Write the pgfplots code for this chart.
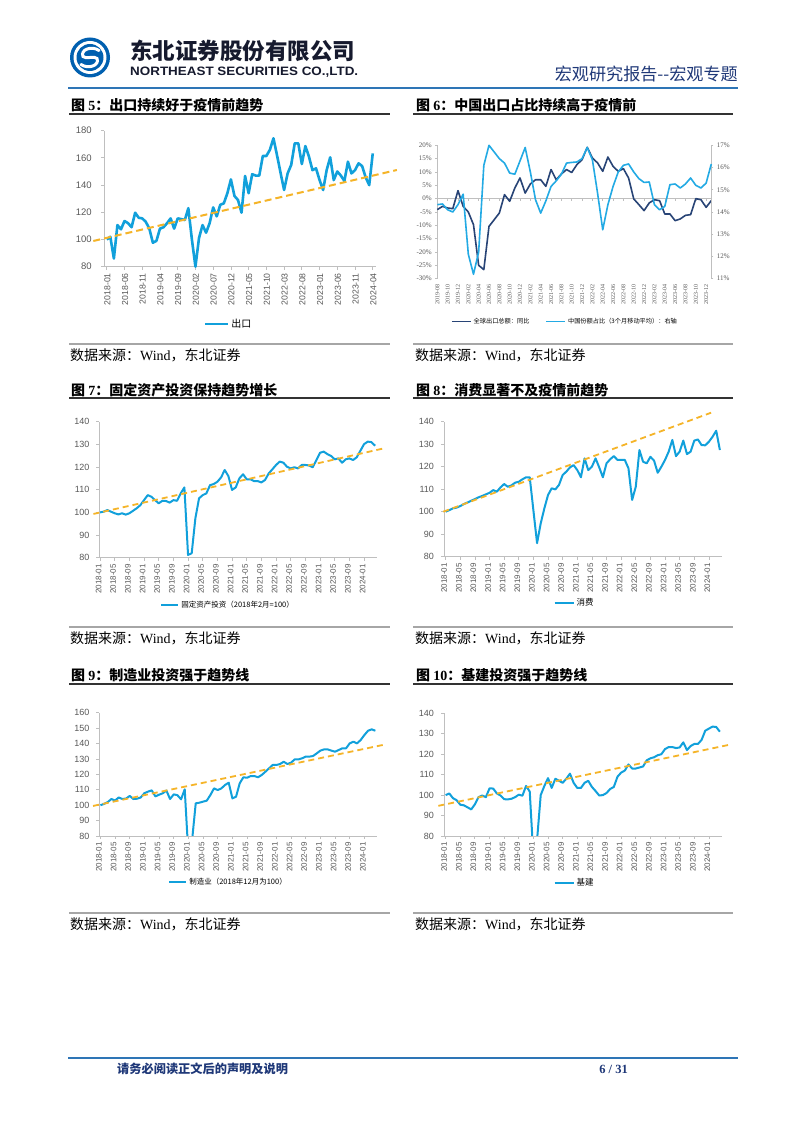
\documentclass[border=0pt]{standalone}
\usepackage{pgfplots}
\pgfplotsset{compat=1.18}
\usepackage{graphicx}
\usepackage{fontspec}
\setmainfont{Liberation Serif}
\newfontfamily\lsans{Liberation Sans}
\newfontfamily\cjk{Noto Sans CJK SC}
\definecolor{lblue}{RGB}{17,160,219}
\definecolor{dblue}{RGB}{40,68,118}
\definecolor{sblue}{RGB}{35,170,228}
\definecolor{trend}{RGB}{245,180,40}
\definecolor{axgray}{RGB}{191,191,191}
\definecolor{tkgray}{RGB}{89,89,89}
\definecolor{navy}{RGB}{31,56,120}
\definecolor{logoblue}{RGB}{0,96,176}
\definecolor{rulec}{RGB}{46,117,182}
\definecolor{namec}{RGB}{22,26,46}

\pgfplotsset{
  base/.style={
    scale only axis, clip=false,
    axis x line*=bottom, axis y line*=left,
    axis line style={draw=axgray, line width=0.8pt},
    tick style={draw=axgray, line width=0.8pt},
    tick align=outside, major tick length=3pt,
    /pgf/number format/assume math mode=true,
    yticklabel style={font=\lsans\fontsize{9}{9}\selectfont, text=tkgray, xshift=-3.5pt},
    xticklabel style={font=\lsans\fontsize{8}{8}\selectfont, text=tkgray, rotate=90, anchor=east, yshift=1.5pt},
    legend cell align=left,
    legend style={draw=none, fill=none, anchor=center, font=\cjk\fontsize{7.5}{7.5}\selectfont},
    legend image code/.code={\draw[##1] (0pt,0pt) -- (17pt,0pt);},
  },
  mline/.style={lblue, line width=2pt, line join=round},
  tline/.style={trend, line width=1.8pt, dash pattern=on 6pt off 4pt},
  mlabels/.style={xtick={0,4,...,72},
    xticklabels={2018-01,2018-05,2018-09,2019-01,2019-05,2019-09,2020-01,2020-05,2020-09,2021-01,2021-05,2021-09,2022-01,2022-05,2022-09,2023-01,2023-05,2023-09,2024-01}},
}

\begin{document}
\begin{tikzpicture}[x=1pt,y=1pt]
\fill[white] (0,0) rectangle (802,1133);

% ---------- header ----------
\begin{scope}[shift={(90,1075.5)}]
\fill[logoblue] (0,0) circle (20);
\fill[white] (0,0) circle (16.5);
\fill[logoblue] (0,0) circle (13.5);
\draw[white, line width=3pt, line cap=round] (9,7) .. controls (2,12) and (-10,8) .. (-7,1) .. controls (-5,-2) and (5,2) .. (7,-1) .. controls (10,-8) and (-2,-12) .. (-9,-7);
\end{scope}
\node[anchor=west, inner sep=0, text=namec] at (130,1082) {\resizebox{225pt}{!}{\cjk\bfseries 东北证券股份有限公司}};
\node[anchor=west, inner sep=0, text=namec] at (130,1061) {\resizebox{228pt}{8.5pt}{\lsans\bfseries NORTHEAST SECURITIES CO.,LTD.}};
\node[anchor=east, inner sep=0, text=navy] at (738,1059) {\resizebox{183pt}{!}{\cjk 宏观研究报告--宏观专题}};
\draw[rulec, line width=1.5pt] (68,1045) -- (738,1045);

% ---------- titles, rules, sources ----------
\foreach \ty/\uy/\sy/\sty in {1028/1019/789/778, 743/735/506/495, 458/449/220/209}{
  \draw[black!80, line width=1.5pt] (69,\uy) -- (390,\uy);
  \draw[black!80, line width=1.5pt] (413,\uy) -- (733,\uy);
  \draw[gray!70, line width=1.2pt] (69,\sy) -- (390,\sy);
  \draw[gray!70, line width=1.2pt] (413,\sy) -- (733,\sy);
  \node[anchor=west, inner sep=0] at (70,\sty) {\cjk\fontsize{14}{14}\selectfont 数据来源：{\rmfamily Wind}，东北证券};
  \node[anchor=west, inner sep=0] at (415,\sty) {\cjk\fontsize{14}{14}\selectfont 数据来源：{\rmfamily Wind}，东北证券};
}
\node[anchor=west, inner sep=0] at (71,1028) {\cjk\bfseries\fontsize{14}{14}\selectfont 图 {\rmfamily 5}：出口持续好于疫情前趋势};
\node[anchor=west, inner sep=0] at (416,1028) {\cjk\bfseries\fontsize{14}{14}\selectfont 图 {\rmfamily 6}：中国出口占比持续高于疫情前};
\node[anchor=west, inner sep=0] at (71,743) {\cjk\bfseries\fontsize{14}{14}\selectfont 图 {\rmfamily 7}：固定资产投资保持趋势增长};
\node[anchor=west, inner sep=0] at (416,743) {\cjk\bfseries\fontsize{14}{14}\selectfont 图 {\rmfamily 8}：消费显著不及疫情前趋势};
\node[anchor=west, inner sep=0] at (71,458) {\cjk\bfseries\fontsize{14}{14}\selectfont 图 {\rmfamily 9}：制造业投资强于趋势线};
\node[anchor=west, inner sep=0] at (416,458) {\cjk\bfseries\fontsize{14}{14}\selectfont 图 {\rmfamily 10}：基建投资强于趋势线};

% ---------- footer ----------
\draw[rulec, line width=1.5pt] (68,75) -- (738,75);
\node[anchor=west, inner sep=0, text=navy] at (117,64) {\cjk\bfseries\fontsize{12.2}{12.2}\selectfont 请务必阅读正文后的声明及说明};
\node[anchor=east, inner sep=0, text=navy] at (628,64) {\rmfamily\bfseries\fontsize{12.5}{12.5}\selectfont 6 / 31};

% ---------- Chart 5 ----------
\begin{axis}[base, at={(104.3pt,866.3pt)}, anchor=south west, width=272pt, height=136pt,
  xmin=-0.7, xmax=76, ymin=80, ymax=180, ytick={80,100,...,180},
  xtick={0,5,...,75},
  xticklabels={2018-01,2018-06,2018-11,2019-04,2019-09,2020-02,2020-07,2020-12,2021-05,2021-10,2022-03,2022-08,2023-01,2023-06,2023-11,2024-04},
  xticklabel style={font=\lsans\fontsize{8.7}{8.7}\selectfont, yshift=-2pt},
  yticklabel style={font=\lsans\fontsize{9.5}{9.5}\selectfont, xshift=-2.5pt},
  legend style={at={(0.457,-0.421)}, font=\cjk\fontsize{10}{10}\selectfont},
  legend image code/.code={\draw[#1] (0pt,0pt) -- (23pt,0pt);},
]
\addplot[mline, line width=2.6pt] table[x expr=\coordindex, y index=0, row sep=\\] {v\\
100\\102\\86\\110.6\\107.5\\113.6\\112\\109\\119.7\\116\\
115.5\\113\\108\\97.6\\99\\108\\109\\112\\115.5\\108\\
115.5\\115\\114.3\\123\\100\\80\\101\\110.6\\105\\112\\
123.6\\117\\125.5\\126.6\\134\\144.2\\132\\129\\119.7\\146.7\\
134\\148\\147\\147\\161.4\\161.4\\166\\174.4\\162\\149\\
136.4\\148.6\\154.8\\170.7\\170.7\\155.5\\168.7\\161\\151\\152.3\\
143.7\\136.4\\151\\160.4\\143.7\\150\\147\\143\\157.2\\148.6\\
151\\156\\154\\145.7\\140\\163.3\\};
\addlegendentry{出口}
\addplot[tline, line width=2pt, dash pattern=on 7pt off 4pt, forget plot] coordinates {(-3.8,98.9) (81.8,151.1)};
\end{axis}

% ---------- Chart 6 ----------
\begin{axis}[scale only axis, clip=false, at={(437.3pt,854.3pt)}, anchor=south west, width=274pt, height=133.4pt,
  xmin=0, xmax=53, ymin=-30, ymax=20,
  axis x line*=bottom, axis y line*=left,
  x axis line style={draw=none}, y axis line style={draw=axgray, line width=0.8pt},
  xtick style={draw=none}, ytick style={draw=axgray, line width=0.6pt},
  tick align=outside, major tick length=2pt,
  ytick={-30,-25,...,20},
  yticklabels={-30\%,-25\%,-20\%,-15\%,-10\%,-5\%,0\%,5\%,10\%,15\%,20\%},
  xtick={0,2,...,52},
  xticklabels={2019-08,2019-10,2019-12,2020-02,2020-04,2020-06,2020-08,2020-10,2020-12,2021-02,2021-04,2021-06,2021-08,2021-10,2021-12,2022-02,2022-04,2022-06,2022-08,2022-10,2022-12,2023-02,2023-04,2023-06,2023-08,2023-10,2023-12},
  yticklabel style={font=\rmfamily\fontsize{7}{7}\selectfont, text=tkgray},
  xticklabel style={font=\rmfamily\fontsize{6}{6}\selectfont, text=tkgray, rotate=90, anchor=east},
  legend columns=2, legend cell align=left,
  legend style={draw=none, fill=none, at={(0.466,-0.322)}, anchor=center, font=\cjk\fontsize{6.2}{6.2}\selectfont,
    /tikz/every even column/.append style={column sep=14pt}},
  legend image code/.code={\draw[#1] (0pt,0pt) -- (19pt,0pt);},
]
\draw[axgray, line width=0.8pt] (axis cs:0,0) -- (axis cs:53,0);
\pgfplotsinvokeforeach{0,2,...,52}{\draw[axgray, line width=0.5pt] (axis cs:#1,0) -- ++(0pt,-2pt);}
\addplot[dblue, line width=1.6pt, line join=round] table[x expr=\coordindex, y index=0, row sep=\\] {v\\
-4.1\\-2.9\\-3.5\\-3.75\\3\\-2.9\\-5\\-9.75\\-25\\-26.6\\
-10.4\\-7.9\\-5.4\\1.5\\-1\\4\\7.75\\2.1\\5.5\\7.1\\
7.1\\4.6\\10.9\\7.1\\9.25\\10.9\\9.8\\12.75\\14.6\\19.25\\
15.25\\13.4\\10.25\\15.6\\12.1\\10.25\\11.25\\7.75\\-0.1\\-2.25\\
-4.5\\-1.6\\-0.4\\-0.75\\-5.75\\-5.75\\-8.25\\-7.6\\-6.25\\-6\\
0\\-0.4\\-3.25\\-0.75\\};
\addlegendentry{全球出口总额：同比}
\addlegendimage{sblue, line width=1.6pt}
\addlegendentry{中国份额占比（3个月移动平均）：右轴}
\end{axis}
\begin{axis}[scale only axis, clip=false, at={(437.3pt,854.3pt)}, anchor=south west, width=274pt, height=133.4pt,
  xmin=0, xmax=53, ymin=11, ymax=17,
  axis x line=none, axis y line*=right,
  y axis line style={draw=axgray, line width=0.8pt},
  ytick style={draw=axgray, line width=0.6pt}, tick align=outside, major tick length=2pt,
  ytick={11,12,...,17}, yticklabels={11\%,12\%,13\%,14\%,15\%,16\%,17\%},
  yticklabel style={font=\rmfamily\fontsize{7}{7}\selectfont, text=tkgray},
]
\addplot[sblue, line width=1.6pt, line join=round] table[x expr=\coordindex, y index=0, row sep=\\] {v\\
14.33\\14.36\\14.1\\14.0\\14.33\\14.8\\12.1\\11.2\\12.2\\16.1\\
17.0\\16.7\\16.4\\16.2\\15.75\\15.7\\16.3\\16.9\\15.8\\14.55\\
13.95\\14.5\\15.15\\15.4\\15.7\\16.2\\16.23\\16.25\\16.4\\16.9\\
16.35\\14.85\\13.2\\14.33\\15.15\\15.8\\16.1\\16.16\\15.8\\15.5\\
15.33\\15.35\\14.33\\14.1\\14.25\\15.23\\15.26\\15.08\\15.26\\15.53\\
15.2\\15.08\\15.3\\16.16\\};
\end{axis}

% ---------- Chart 7 ----------
\begin{axis}[base, mlabels, at={(99.3pt,575.3pt)}, anchor=south west, width=277.6pt, height=136pt,
  xmin=-0.2, xmax=75.5, ymin=80, ymax=140, ytick={80,90,...,140},
  legend style={at={(0.464,-0.348)}},
]
\addplot[mline] table[x expr=\coordindex, y index=0, row sep=\\] {v\\
100\\100.3\\101\\100.3\\99.6\\99.1\\99.6\\99\\99.6\\100.7\\
101.8\\103.2\\105.4\\107.6\\106.9\\105.4\\104\\105.1\\105\\104.3\\
105.4\\105.1\\108.4\\111\\81.2\\82\\97.4\\106.2\\107.6\\108.4\\
112\\112.5\\113.5\\115.4\\118.7\\116\\109.9\\111\\115\\116.8\\
114.6\\114.6\\113.8\\113.8\\113.2\\114.3\\117.2\\119\\120.9\\122.4\\
121.9\\120.1\\119.4\\119.9\\119.4\\120.9\\120.9\\120.7\\119.9\\123.1\\
126.3\\126.8\\125.7\\124.9\\123.4\\123.8\\121.9\\123.4\\123.8\\123.1\\
124.3\\127.2\\130.1\\131.2\\131\\129.4\\};
\addlegendentry{固定资产投资（2018年2月=100）}
\addplot[tline, forget plot] coordinates {(-1.8,99.3) (77.3,128.2)};
\end{axis}

% ---------- Chart 8 ----------
\begin{axis}[base, mlabels, at={(444pt,576.3pt)}, anchor=south west, width=277.7pt, height=135pt,
  xmin=-0.45, xmax=75.5, ymin=80, ymax=140, ytick={80,90,...,140},
  legend style={at={(0.47,-0.343)}, font=\cjk\fontsize{8.5}{8.5}\selectfont},
  legend image code/.code={\draw[#1] (0pt,0pt) -- (19pt,0pt);},
]
\addplot[mline] table[x expr=\coordindex, y index=0, row sep=\\] {v\\
100\\100.7\\101.5\\101.8\\102.5\\103.4\\104.1\\104.9\\105.6\\106.4\\
107\\107.7\\108.4\\109.6\\108.9\\110.8\\112.3\\111.1\\111.7\\112.9\\
113.3\\114.4\\115.3\\115.3\\100.6\\86\\94.8\\101.5\\107.4\\110.4\\
109.9\\111.9\\116.3\\117.8\\119.7\\120.7\\118.5\\115.3\\123.7\\118.5\\
120\\123.7\\119.7\\115.3\\121.5\\123.3\\124.7\\123\\123\\123\\
119.3\\105.2\\111.1\\127.4\\122.2\\121.5\\124.4\\122.7\\117.3\\120\\
123\\126.7\\131.9\\124.7\\126.7\\131.6\\125.6\\126.7\\131.6\\132.1\\
129.6\\129.5\\131.1\\133.3\\136\\127.4\\};
\addlegendentry{消费}
\addplot[tline, forget plot] coordinates {(-0.65,100) (72.6,144)};
\end{axis}

% ---------- Chart 9 ----------
\begin{axis}[base, mlabels, clip=true, at={(99.3pt,297pt)}, anchor=south west, width=277.9pt, height=123.3pt,
  xmin=-0.3, xmax=75.5, ymin=80, ymax=160, ytick={80,90,...,160},
  legend style={at={(0.465,-0.373)}},
]
\addplot[mline] table[x expr=\coordindex, y index=0, row sep=\\] {v\\
100\\100.8\\102\\104\\103\\105\\104\\104.3\\106\\104\\
104.2\\105\\107.8\\108.8\\109.6\\105.7\\106.8\\107.7\\109.5\\104\\
107\\106.5\\103.8\\110.3\\68\\77\\101.2\\101.6\\102.3\\102.9\\
106.6\\110.9\\109.8\\110.9\\113.1\\114.6\\104.4\\105.5\\114.2\\118.1\\
117.8\\118.9\\118.9\\118.1\\119.6\\121.7\\123.9\\126.1\\126.1\\126.7\\
128.2\\126.7\\127.6\\129.7\\129.7\\130.4\\131.5\\131.5\\131.9\\133.6\\
135.4\\136.2\\136.2\\135.4\\134.7\\135.8\\136.9\\136.9\\140.1\\141.2\\
140.1\\142.3\\145.5\\148.3\\149.2\\148.3\\};
\addlegendentry{制造业（2018年12月为100）}
\end{axis}
\begin{axis}[scale only axis, hide axis, clip=false, at={(99.3pt,297pt)}, anchor=south west, width=277.9pt, height=123.3pt,
  xmin=-0.3, xmax=75.5, ymin=80, ymax=160]
\addplot[tline] coordinates {(-2,99.5) (77.3,139.2)};
\end{axis}

% ---------- Chart 10 ----------
\begin{axis}[base, mlabels, clip=true, at={(444pt,297pt)}, anchor=south west, width=277.7pt, height=122.7pt,
  xmin=-0.45, xmax=75.5, ymin=80, ymax=140, ytick={80,90,...,140},
  legend style={at={(0.47,-0.383)}, font=\cjk\fontsize{8.5}{8.5}\selectfont},
  legend image code/.code={\draw[#1] (0pt,0pt) -- (19pt,0pt);},
]
\addplot[mline] table[x expr=\coordindex, y index=0, row sep=\\] {v\\
100\\100.8\\98.5\\97.5\\95.3\\95\\94\\93\\95.5\\99\\
99.8\\99\\103.3\\103.2\\100.8\\99.8\\98\\97.9\\98.2\\99\\
100.2\\99.7\\104.5\\101.7\\70\\78\\100\\104.5\\108.3\\103.5\\
108\\107\\106\\108\\110.5\\106\\103.5\\103.5\\106\\107\\
104\\102\\99.8\\100\\101\\103\\104\\109\\111\\112\\
115\\113\\113\\113.5\\114\\117\\118\\118.5\\119.5\\120\\
122.5\\123.5\\123.5\\123\\123.3\\125.8\\122\\124\\125\\125\\
127\\131.5\\132.5\\133.5\\133.3\\131\\};
\addlegendentry{基建}
\end{axis}
\begin{axis}[scale only axis, hide axis, clip=false, at={(444pt,297pt)}, anchor=south west, width=277.7pt, height=122.7pt,
  xmin=-0.45, xmax=75.5, ymin=80, ymax=140]
\addplot[tline] coordinates {(-2,94.75) (77.3,124.5)};
\end{axis}
\end{tikzpicture}
\end{document}
